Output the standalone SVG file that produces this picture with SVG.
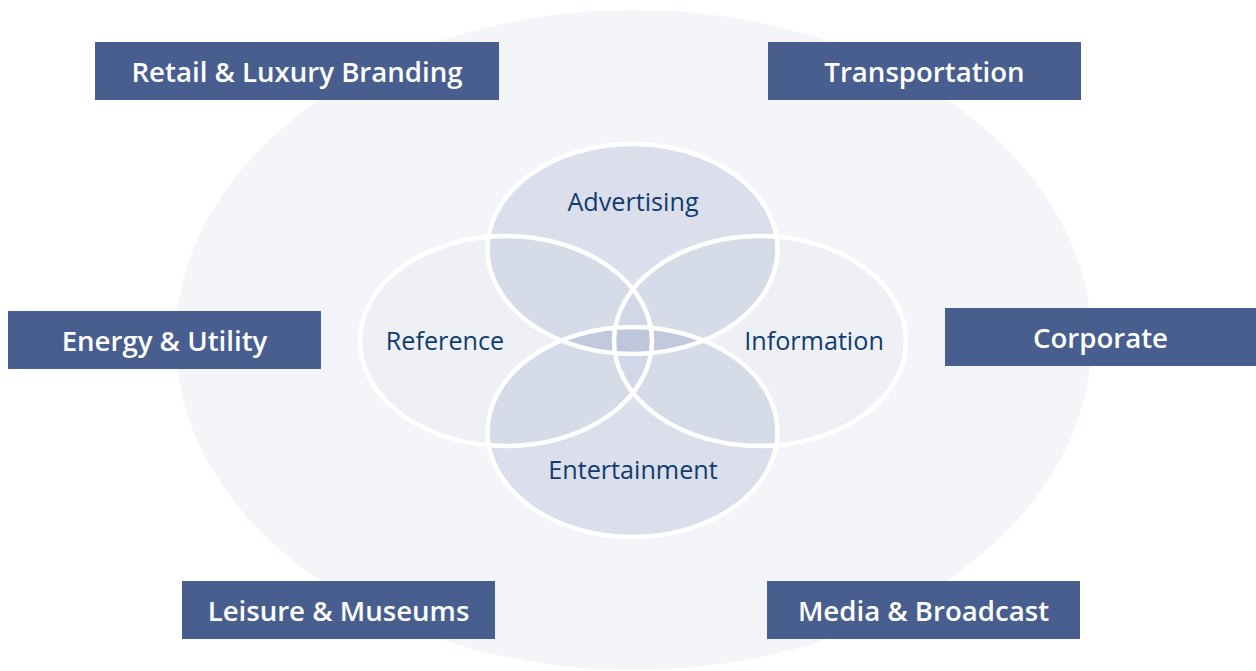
<svg xmlns="http://www.w3.org/2000/svg" width="1256" height="671" viewBox="0 0 1256 671">
<style>
.box{fill:#475e8f}
.bt{font-family:"Open Sans","Liberation Sans",sans-serif;font-weight:600;font-size:27.6px;fill:#ffffff;text-anchor:middle}
.lt{font-family:"Open Sans","Liberation Sans",sans-serif;font-size:25.2px;fill:#0f3c6e;text-anchor:middle}
.light{fill:#5a6aa0;fill-opacity:0.035}
.dark{fill:#5a6aa0;fill-opacity:0.156}
.ring{fill:none;stroke:#ffffff;stroke-width:4.5}
</style>
<rect width="1256" height="671" fill="#ffffff"/>
<ellipse cx="633.5" cy="340" rx="458" ry="330" fill="#f4f5f9"/>
<g id="venn-fills">
<ellipse class="light" cx="506" cy="341" rx="146" ry="105"/>
<ellipse class="light" cx="760" cy="341" rx="146" ry="105"/>
<ellipse class="dark" cx="632.5" cy="249" rx="145" ry="105"/>
<ellipse class="dark" cx="632.5" cy="432" rx="145" ry="105"/>
</g>
<g id="venn-rings">
<ellipse class="ring" cx="506" cy="341" rx="146" ry="105"/>
<ellipse class="ring" cx="760" cy="341" rx="146" ry="105"/>
<ellipse class="ring" cx="632.5" cy="249" rx="145" ry="105"/>
<ellipse class="ring" cx="632.5" cy="432" rx="145" ry="105"/>
</g>
<g id="advertising"><text class="lt" x="633" y="211">Advertising</text></g>
<g id="reference"><text class="lt" x="445" y="350">Reference</text></g>
<g id="information"><text class="lt" x="814" y="350">Information</text></g>
<g id="entertainment"><text class="lt" x="633" y="479">Entertainment</text></g>
<g id="retail"><rect class="box" x="95" y="42" width="404" height="58"/><text class="bt" x="297" y="82">Retail &amp; Luxury Branding</text></g>
<g id="transportation"><rect class="box" x="768" y="42" width="313" height="58"/><text class="bt" x="924.5" y="82">Transportation</text></g>
<g id="energy"><rect class="box" x="8" y="311" width="313" height="58"/><text class="bt" x="164.5" y="351">Energy &amp; Utility</text></g>
<g id="corporate"><rect class="box" x="945" y="308" width="311" height="58"/><text class="bt" x="1100.5" y="348">Corporate</text></g>
<g id="leisure"><rect class="box" x="182" y="581" width="313" height="58"/><text class="bt" x="338.5" y="621">Leisure &amp; Museums</text></g>
<g id="media"><rect class="box" x="767" y="581" width="313" height="58"/><text class="bt" x="923.5" y="621">Media &amp; Broadcast</text></g>
<g id="connectors"></g>
</svg>
